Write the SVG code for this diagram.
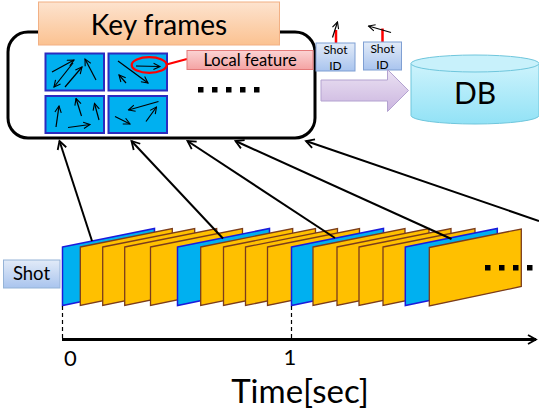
<svg xmlns="http://www.w3.org/2000/svg" width="539" height="409" viewBox="0 0 539 409">
<style>
text{font-family:Lato,"Open Sans","Liberation Sans",sans-serif;fill:#000}
.blue{fill:#00b0f0;stroke:#1a1adc;stroke-width:1.5}
.orange{fill:#ffc000;stroke:#7b3c1c;stroke-width:1.3}
.tile{fill:#00b0f0;stroke:#2b2bc0;stroke-width:2}
.ta{stroke:#000;stroke-width:1.2;fill:none;marker-end:url(#sa)}
.conn{stroke:#000;stroke-width:2;fill:none;marker-end:url(#oa)}
.dash{stroke:#000;stroke-width:1.2;stroke-dasharray:4 3}
.dot{fill:#000}
</style>
<defs>
<marker id="oa" markerUnits="userSpaceOnUse" markerWidth="12" markerHeight="12" refX="9" refY="5" orient="auto" viewBox="0 0 12 10">
<path d="M1,0.5 L9,5 L1,9.5" fill="none" stroke="#000" stroke-width="1.8"/>
</marker>
<marker id="sa" markerUnits="userSpaceOnUse" markerWidth="8" markerHeight="8" refX="7" refY="4" orient="auto" viewBox="0 0 8 8">
<path d="M0.5,0.8 L7,4 L0.5,7.2" fill="none" stroke="#000" stroke-width="1.1"/>
</marker>
<linearGradient id="gOr" x1="0" y1="0" x2="0" y2="1"><stop offset="0" stop-color="#fde3cf"/><stop offset="1" stop-color="#fbc291"/></linearGradient>
<linearGradient id="gPk" x1="0" y1="0" x2="0" y2="1"><stop offset="0" stop-color="#fbd3d3"/><stop offset="1" stop-color="#f4a3a3"/></linearGradient>
<linearGradient id="gBl" x1="0" y1="0" x2="0" y2="1"><stop offset="0" stop-color="#e2ebf8"/><stop offset="1" stop-color="#a9c4ee"/></linearGradient>
<linearGradient id="gPu" x1="0" y1="0" x2="0" y2="1"><stop offset="0" stop-color="#ebe2f3"/><stop offset="1" stop-color="#cbb5df"/></linearGradient>
<linearGradient id="gCy" x1="0" y1="0" x2="0" y2="1"><stop offset="0" stop-color="#cdf3fc"/><stop offset="1" stop-color="#92e2f6"/></linearGradient>
</defs>

<g id="keyframes-box">
<rect x="8" y="32" width="307" height="106" rx="20" ry="20" fill="#fff" stroke="#000" stroke-width="3"/>
<rect x="38.5" y="2" width="241" height="43" fill="url(#gOr)" stroke="#f2b084" stroke-width="1"/>
<text x="159" y="35" font-size="28" text-anchor="middle">Key frames</text>
</g>

<g id="tiles">
<rect class="tile" x="45.5" y="53.5" width="58.5" height="37"/>
<rect class="tile" x="108.5" y="53.5" width="58.5" height="37"/>
<rect class="tile" x="45.5" y="96" width="58.5" height="37"/>
<rect class="tile" x="108.5" y="96" width="58.5" height="37"/>
<line class="ta" x1="52" y1="72" x2="74" y2="60"/>
<line class="ta" x1="73" y1="63" x2="54" y2="87"/>
<line class="ta" x1="65" y1="87" x2="82" y2="67"/>
<line class="ta" x1="96" y1="80" x2="85" y2="59"/>
<line class="ta" x1="118" y1="61" x2="148" y2="83"/>
<line class="ta" x1="136" y1="66" x2="160" y2="66.5"/>
<line class="ta" x1="126" y1="83" x2="119" y2="75"/>
<line class="ta" x1="56" y1="127" x2="59" y2="106"/>
<line class="ta" x1="81.5" y1="116" x2="76" y2="98.5"/>
<line class="ta" x1="99" y1="120" x2="94.5" y2="103.5"/>
<line class="ta" x1="68" y1="127.5" x2="90" y2="124.5"/>
<line class="ta" x1="158.5" y1="101.5" x2="128.5" y2="110"/>
<line class="ta" x1="115" y1="116.5" x2="130" y2="124"/>
<line class="ta" x1="146" y1="121.5" x2="156.5" y2="107"/>
<ellipse cx="149.2" cy="65" rx="17.5" ry="7.8" fill="none" stroke="#ff0000" stroke-width="2.3"/>
<line x1="166.5" y1="64.5" x2="187" y2="59" stroke="#ff0000" stroke-width="2.3"/>
<rect class="dot" x="198" y="87" width="5.5" height="5.5"/>
<rect class="dot" x="212" y="87" width="5.5" height="5.5"/>
<rect class="dot" x="226" y="87" width="5.5" height="5.5"/>
<rect class="dot" x="240" y="87" width="5.5" height="5.5"/>
<rect class="dot" x="254" y="87" width="5.5" height="5.5"/>
</g>

<g id="local-feature">
<rect x="187" y="50.5" width="126" height="19" fill="url(#gPk)" stroke="#e47a7a" stroke-width="1"/>
<text x="250" y="65.5" font-size="16.5" text-anchor="middle">Local feature</text>
</g>

<g id="shot-id-1">
<line x1="336" y1="30" x2="336" y2="43" stroke="#ff0000" stroke-width="2.5"/>
<line class="ta" x1="332.5" y1="37.5" x2="337.5" y2="22"/>
<rect x="316" y="43" width="39" height="28" fill="url(#gBl)" stroke="#7f9fd3" stroke-width="1"/>
<text x="335.5" y="54" font-size="12" text-anchor="middle">Shot</text>
<text x="335.5" y="69.5" font-size="12" text-anchor="middle">ID</text>
</g>
<g id="shot-id-2">
<line x1="382.5" y1="28.5" x2="382.5" y2="42" stroke="#ff0000" stroke-width="2.5"/>
<line class="ta" x1="391" y1="32.5" x2="368.5" y2="26"/>
<rect x="363.5" y="42" width="38" height="28" fill="url(#gBl)" stroke="#7f9fd3" stroke-width="1"/>
<text x="382.5" y="53" font-size="12" text-anchor="middle">Shot</text>
<text x="382.5" y="68.5" font-size="12" text-anchor="middle">ID</text>
</g>

<g id="store-arrow">
<path d="M321,80 L387.5,80 L387.5,69.5 L408.5,90.5 L387.5,111.5 L387.5,101 L321,101 Z" fill="url(#gPu)" stroke="#b3a2d0" stroke-width="1"/>
</g>

<g id="db">
<path d="M411,63.5 L411,115.5 A64,8.5 0 0 0 539,115.5 L539,63.5" fill="url(#gCy)" stroke="#6fc6dc" stroke-width="1"/>
<ellipse cx="475" cy="63.5" rx="64" ry="8.5" fill="#c8f1fb" stroke="#6fc6dc" stroke-width="1"/>
<text x="475" y="104" font-size="30" text-anchor="middle">DB</text>
</g>

<g id="shot-label">
<rect x="3.5" y="260" width="56.5" height="28" fill="url(#gBl)" stroke="#95b3d7" stroke-width="1"/>
<text x="31.5" y="280" font-size="18.5" text-anchor="middle">Shot</text>
</g>

<g id="frames">
<polygon class="blue" points="62.5,247 154.5,228.5 154.5,286.5 62.5,305.5"/>
<polygon class="orange" points="80.3,247 172.3,228.5 172.3,286.5 80.3,305.5"/>
<polygon class="orange" points="102.7,247 194.7,228.5 194.7,286.5 102.7,305.5"/>
<polygon class="orange" points="124.7,247 216.7,228.5 216.7,286.5 124.7,305.5"/>
<polygon class="orange" points="150.5,247 242.5,228.5 242.5,286.5 150.5,305.5"/>
<polygon class="blue" points="177.5,247 269.5,228.5 269.5,286.5 177.5,305.5"/>
<polygon class="orange" points="200.7,247 292.7,228.5 292.7,286.5 200.7,305.5"/>
<polygon class="orange" points="223.5,247 315.5,228.5 315.5,286.5 223.5,305.5"/>
<polygon class="orange" points="245.5,247 337.5,228.5 337.5,286.5 245.5,305.5"/>
<polygon class="orange" points="267.5,247 359.5,228.5 359.5,286.5 267.5,305.5"/>
<polygon class="blue" points="291.5,247 383.5,228.5 383.5,286.5 291.5,305.5"/>
<polygon class="orange" points="313,247 405,228.5 405,286.5 313,305.5"/>
<polygon class="orange" points="337,247 429,228.5 429,286.5 337,305.5"/>
<polygon class="orange" points="359,247 451,228.5 451,286.5 359,305.5"/>
<polygon class="orange" points="383,247 475,228.5 475,286.5 383,305.5"/>
<polygon class="blue" points="405.3,247 497.3,228.5 497.3,286.5 405.3,305.5"/>
<polygon class="orange" points="429.3,247.5 521.3,229 521.3,286.5 429.3,306"/>
<rect class="dot" x="485" y="265" width="5.5" height="5.5"/>
<rect class="dot" x="499" y="265" width="5.5" height="5.5"/>
<rect class="dot" x="513" y="265" width="5.5" height="5.5"/>
<rect class="dot" x="527" y="265" width="5.5" height="5.5"/>
</g>

<g id="connectors">
<line class="conn" x1="92" y1="241" x2="59.5" y2="141"/>
<line class="conn" x1="223" y1="238.5" x2="131.5" y2="141"/>
<line class="conn" x1="335" y1="238" x2="187.5" y2="141"/>
<line class="conn" x1="451.5" y1="239" x2="235.5" y2="141"/>
<line class="conn" x1="539" y1="221" x2="306" y2="141"/>
</g>

<g id="timeline">
<line class="dash" x1="62.5" y1="306" x2="62.5" y2="338"/>
<line class="dash" x1="291.5" y1="306" x2="291.5" y2="338"/>
<line x1="62" y1="339.5" x2="536" y2="339.5" stroke="#000" stroke-width="3" marker-end="url(#oa)"/>
<text x="70.3" y="365.5" font-size="22" text-anchor="middle">0</text>
<text x="290" y="365" font-size="22" text-anchor="middle">1</text>
<text x="300" y="403" font-size="33" text-anchor="middle">Time[sec]</text>
</g>
</svg>
